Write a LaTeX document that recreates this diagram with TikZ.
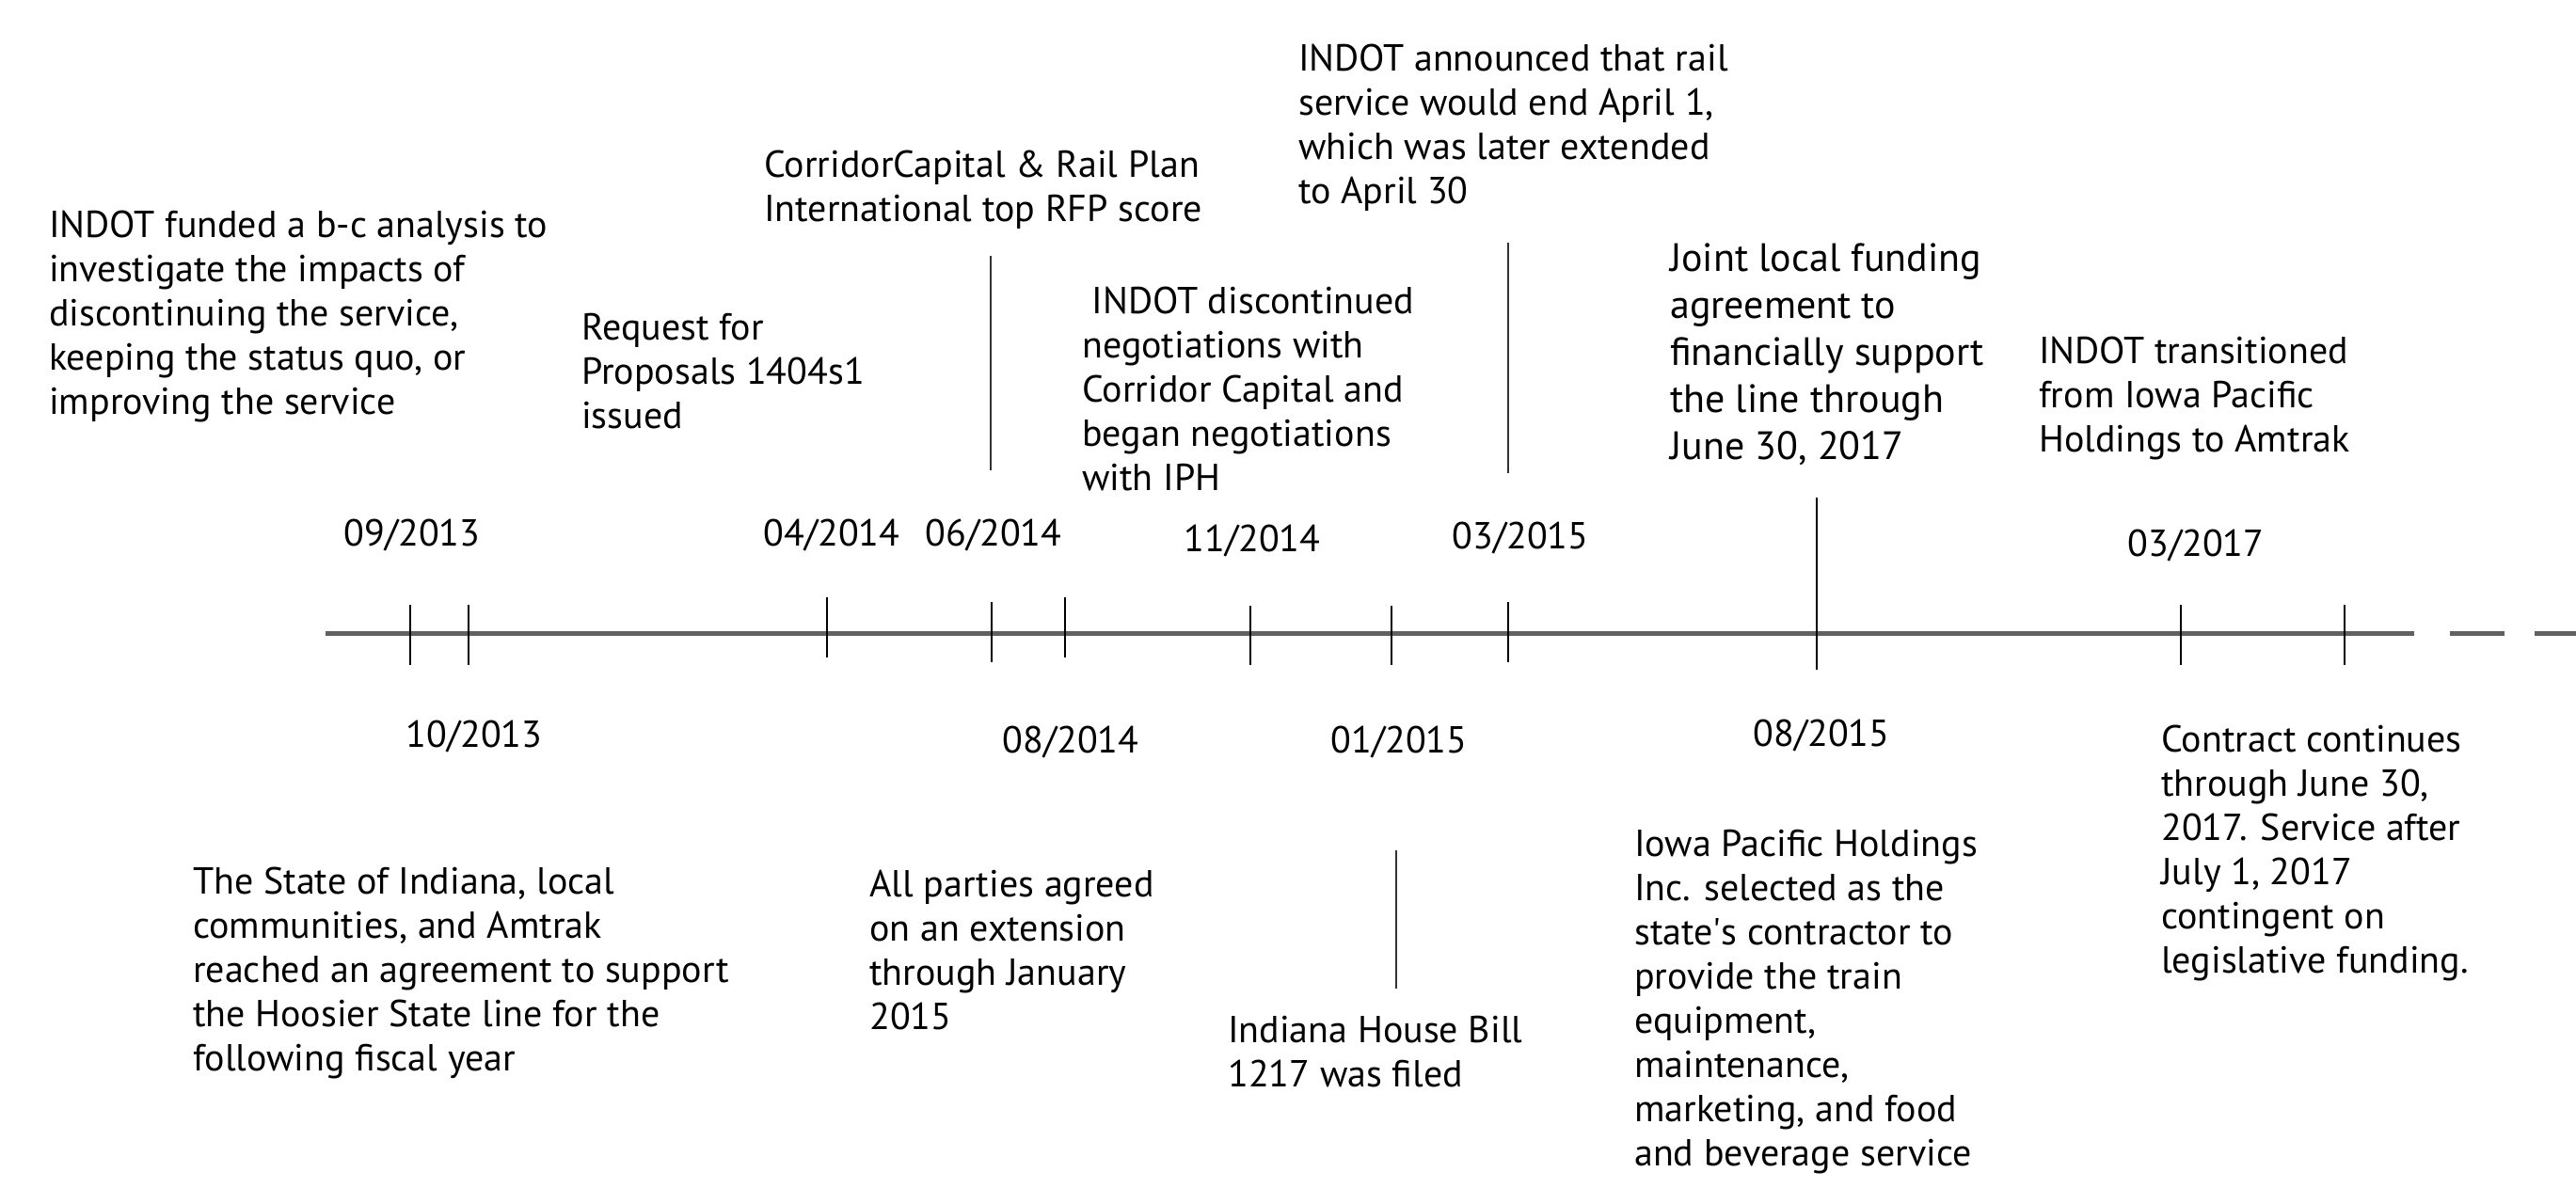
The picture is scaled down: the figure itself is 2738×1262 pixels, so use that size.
\documentclass[tikz,border=0pt]{standalone}
\usepackage{fontspec}
\setmainfont{PT Sans}
\usetikzlibrary{positioning}
\newcommand\tstrut{\rule{0pt}{32pt}}
\definecolor{axisgray}{gray}{0.38}
\begin{document}
\begin{tikzpicture}[x=1pt,y=-1pt,
  txt/.style={anchor=north west,inner sep=0pt,align=left,font=\fontsize{40}{47}\selectfont},
  txtb/.style={anchor=north west,inner sep=0pt,align=left,font=\fontsize{42}{50}\selectfont},
  datelbl/.style={anchor=base,inner sep=0pt,font=\fontsize{40}{47}\selectfont},
  tickline/.style={draw=black,line width=2pt},
  connline/.style={draw=black!80,line width=2pt},
  axisline/.style={draw=axisgray,line width=5pt}]
\useasboundingbox[fill=white] (0,0) rectangle (2738,1262);

% axis
\coordinate (ax0) at (346,673);
\coordinate (ax1) at (2566,673);
\coordinate (d1a) at (2604,673);
\coordinate (d1b) at (2662,673);
\coordinate (d2a) at (2694,673);
\coordinate (d2b) at (2738,673);
\draw[axisline] (ax0) -- (ax1);
\draw[axisline] (d1a) -- (d1b);
\draw[axisline] (d2a) -- (d2b);

% ticks
\foreach \n/\x/\ya/\yb in {t1/436/643/707,t2/498/643/707,t3/879/635/699,t4/1054/640/704,
  t5/1132/635/699,t6/1329/644/707,t7/1479/644/707,t8/1603/640/704,t9/1931/529/712,
  t10/2318/643/707,t11/2492/643/707}{
  \coordinate (\n a) at (\x,\ya);
  \coordinate (\n b) at (\x,\yb);
  \draw[tickline] (\n a) -- (\n b);
}

% date labels
\node[datelbl] (l0913) at (438,580) {09/2013};
\node[datelbl] (l1013) at (504,794) {10/2013};
\node[datelbl] (l0414) at (884,580) {04/2014};
\node[datelbl] (l0614) at (1056,580) {06/2014};
\node[datelbl] (l0814) at (1138,800) {08/2014};
\node[datelbl] (l1114) at (1331,586) {11/2014};
\node[datelbl] (l0115) at (1487,800) {01/2015};
\node[datelbl] (l0315) at (1616,583) {03/2015};
\node[datelbl] (l0815) at (1936,793) {08/2015};
\node[datelbl] (l0317) at (2334,591) {03/2017};

% text blocks (y = first baseline - 32)
\node[txt] (bA) at (52,220) {\tstrut INDOT funded a b-c analysis to\\investigate the impacts of\\discontinuing the service,\\keeping the status quo, or\\improving the service};
\node[txt] (bB) at (618,329) {\tstrut Request for\\Proposals 1404s1\\issued};
\node[txt] (bC) at (812,156) {\tstrut CorridorCapital \& Rail Plan\\International top RFP score};
\node[txt] (bD) at (1150,301) {\tstrut\ INDOT discontinued\\negotiations with\\Corridor Capital and\\began negotiations\\with IPH};
\node[txt] (bE) at (1380,43) {\tstrut INDOT announced that rail\\service would end April 1,\\which was later extended\\to April 30};
\node[txtb] (bF) at (1775,256) {\tstrut Joint local funding\\agreement to\\financially support\\the line through\\June 30, 2017};
\node[txt] (bG) at (2167,354) {\tstrut INDOT transitioned\\from Iowa Pacific\\Holdings to Amtrak};
\node[txt] (bH) at (205,918) {\tstrut The State of Indiana, local\\communities, and Amtrak\\reached an agreement to support\\the Hoosier State line for the\\following fiscal year};
\node[txt] (bI) at (924,921) {\tstrut All parties agreed\\on an extension\\through January\\2015};
\node[txt] (bJ) at (1305,1076) {\tstrut Indiana House Bill\\1217 was filed};
\node[txt] (bK) at (1737,878) {\tstrut Iowa Pacific Holdings\\Inc. selected as the\\state\textquotesingle s contractor to\\provide the train\\equipment,\\maintenance,\\marketing, and food\\and beverage service};
\node[txt] (bL) at (2297,767) {\tstrut Contract continues\\through June 30,\\2017. Service after\\July 1, 2017\\contingent on\\legislative funding.};

% connector lines
\coordinate (cC1) at (1053,272);
\coordinate (cC2) at (1053,500);
\coordinate (cE1) at (1603,258);
\coordinate (cE2) at (1603,503);
\coordinate (cJ1) at (1484,904);
\coordinate (cJ2) at (1484,1051);
\draw[connline] (cC1) -- (cC2);
\draw[connline] (cE1) -- (cE2);
\draw[connline] (cJ1) -- (cJ2);
\end{tikzpicture}
\end{document}
